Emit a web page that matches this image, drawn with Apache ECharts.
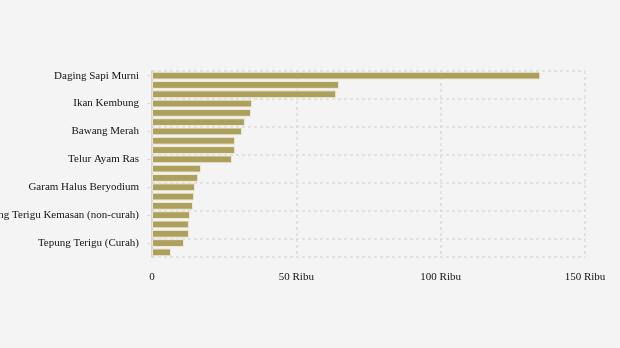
<!DOCTYPE html>
<html><head><meta charset="utf-8">
<script src="https://cdn.jsdelivr.net/npm/echarts@6/dist/echarts.min.js"></script>
<style>html,body{margin:0;padding:0;background:#f4f4f4}#c{width:620px;height:348px}</style>
</head><body><div id="c"></div>
<script>
var categories = ["Daging Sapi Murni","Cabai Rawit Merah","Cabai Merah Keriting","Ikan Kembung","Daging Ayam Ras","Bawang Putih Bonggol","Bawang Merah","Ikan Tongkol","Ikan Bandeng","Telur Ayam Ras","Gula Konsumsi","Minyak Goreng Curah","Garam Halus Beryodium","Beras Premium","Beras Medium","Tepung Terigu Kemasan (non-curah)","Kedelai Biji Kering","Minyak Goreng Kemasan","Tepung Terigu (Curah)","Jagung Tingkat Peternak"];
var values = [134500,64800,63800,34700,34300,32200,31200,28800,28800,27700,17000,16000,14900,14600,14200,13200,12800,12800,11100,6600];
var xTicks = {0:"0",50000:"50 Ribu",100000:"100 Ribu",150000:"150 Ribu"};
var chart = echarts.init(document.getElementById('c'));
var font = "'Liberation Serif', serif";
chart.setOption({
  backgroundColor:'#f4f4f4',
  animation:false,
  grid:{left:152,right:35,top:71,bottom:91,containLabel:false,outerBoundsMode:'none'},
  xAxis:{type:'value',min:0,max:150000,interval:50000,
    axisLine:{show:false},axisTick:{show:false},
    axisLabel:{color:'#111',fontFamily:font,fontSize:11,margin:15,formatter:function(v){return xTicks[v]!==undefined?xTicks[v]:'';}},
    splitLine:{show:true,lineStyle:{color:'#dcdcdc',type:[3,3],width:1.5}}},
  yAxis:{type:'category',data:categories,inverse:true,
    axisLine:{show:true,lineStyle:{color:'#ccc',width:1.5}},
    axisTick:{show:true,interval:2,alignWithLabel:true,length:5,lineStyle:{color:'#ddd'}},
    axisLabel:{interval:2,color:'#111',fontFamily:font,fontSize:11,margin:13,padding:[2,0,0,0]},
    splitLine:{show:true,interval:2,lineStyle:{color:'#dcdcdc',type:[3,3],width:1.5}}},
  series:[{type:'bar',data:values,barCategoryGap:'16%',
    itemStyle:{color:'#ada05c',borderColor:'#ece9dc',borderWidth:1}}]
});
</script></body></html>
